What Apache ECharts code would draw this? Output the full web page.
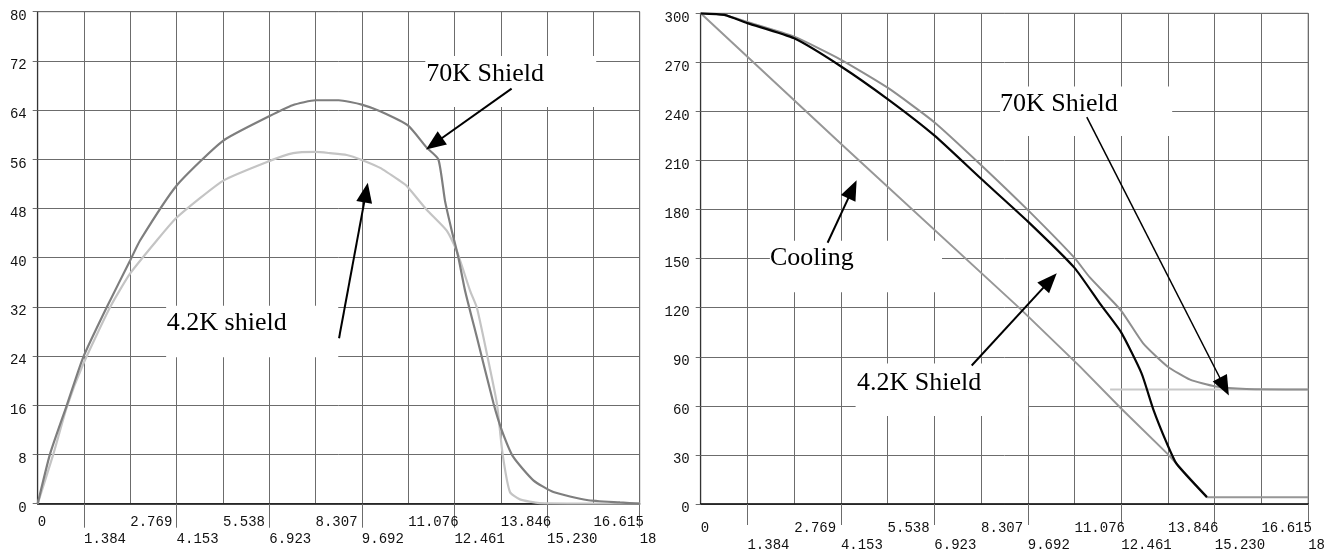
<!DOCTYPE html>
<html><head><meta charset="utf-8">
<script src="https://cdn.jsdelivr.net/npm/echarts@6/dist/echarts.min.js"></script>
<style>html,body{margin:0;padding:0;background:#fff}#c{width:1328px;height:552px}</style>
</head><body><div id="c"></div>
<script>
// ---- data ----
const X_MAX = 18;
const X_STEP = 18 / 13;
const xTickLabels = ['0','1.384','2.769','4.153','5.538','6.923','8.307','9.692','11.076','12.461','13.846','15.230','16.615','18'];
const leftYMax = 80, leftYStep = 8;
const rightYMax = 300, rightYStep = 30;

const left70K = [[0,0],[0.37,8.1],[0.87,16.0],[1.36,23.8],[2.06,31.9],[2.76,39.5],[3.06,42.8],[4.15,51.7],[5.54,59.0],[6.92,63.0],[7.62,64.8],[8.31,65.6],[9.0,65.6],[9.69,64.9],[10.24,63.8],[11.07,61.5],[11.63,57.9],[11.98,56.0],[12.18,49.2],[12.38,44.4],[12.58,40.0],[12.78,34.6],[13.13,27.1],[13.63,16.3],[13.88,11.9],[14.22,7.6],[14.82,3.8],[15.42,1.9],[16.42,0.6],[17.41,0.2],[18,0]];
const left42K = [[0,0],[0.47,8.1],[0.87,15.7],[1.36,22.7],[2.16,31.9],[2.76,37.4],[3.56,42.8],[4.15,46.5],[5.54,52.5],[6.92,55.7],[7.64,57.0],[8.31,57.2],[8.74,57.0],[9.24,56.7],[9.69,55.9],[10.24,54.6],[10.83,52.5],[11.03,51.7],[11.63,47.8],[12.23,44.4],[12.53,41.1],[12.93,34.6],[13.13,31.9],[13.43,24.4],[13.73,16.3],[13.9,8.1],[14.12,1.9],[14.42,0.7],[15.0,0.1],[18,0]];

const right70K = [[0,300],[0.7,299],[1.38,294.7],[2.77,285.7],[4.16,271.6],[5.55,254.4],[6.93,233.3],[8.32,207.0],[9.69,179.8],[11.07,150.6],[11.53,138.5],[12.45,118.4],[13.11,98.2],[13.83,84.1],[14.5,76.0],[15.22,72.0],[16.17,70.3],[18,70]];
const right42K = [[0,300],[0.7,299],[1.38,294.0],[2.77,284.7],[4.16,267.5],[5.55,247.4],[6.93,225.2],[8.3,199.0],[9.69,172.8],[11.07,144.5],[11.83,122.5],[12.45,105.2],[13.06,80.0],[13.41,57.9],[13.8,37.7],[14.1,24.6],[15.0,4.2]];
const rightCooling = [[0,300],[4.17,220],[9.47,119.3],[11.24,84],[12.45,58.5],[13.84,30.5],[15.0,4.2],[18,4.2]];
const right70KLevel = [[12.13,70],[18,70]];

// annotations in data coordinates: panel, box [x0,y0,x1,y1], text anchor [x,y], arrow tail, arrow tip
const annotations = [
  {panel:0, text:'70K Shield',  box:[11.59,72.8,16.70,64.5],  at:[11.62,69.9],  tail:[14.17,67.5], tip:[11.61,57.6], w:2},
  {panel:0, text:'4.2K shield', box:[3.84,32.2,8.98,23.8],    at:[3.86,29.3],   tail:[9.01,26.9],  tip:[9.87,52.2],  w:2},
  {panel:1, text:'Cooling',     box:[2.05,160.9,7.15,129.4],  at:[2.05,150.2],  tail:[3.76,159.7], tip:[4.62,197.9], w:2},
  {panel:1, text:'70K Shield',  box:[8.87,255.2,13.97,225.0], at:[8.87,244.3],  tail:[11.44,236.5],tip:[15.65,66.3], w:1.5},
  {panel:1, text:'4.2K Shield', box:[4.59,85.9,9.70,53.8],    at:[4.63,74.1],   tail:[8.03,84.7],  tip:[10.55,141.1],w:2}
];

// ---- chart ----
const tickVals = xTickLabels.map((_, i) => i * X_STEP);
const evenVals = tickVals.filter((_, i) => i % 2 === 0);
const oddVals = tickVals.filter((_, i) => i % 2 === 1);
const labelFor = v => xTickLabels[Math.round(v / X_STEP)];
const GRID = '#6c6c6c';
const LABEL_FONT = {fontFamily:'Liberation Mono', fontSize:14, color:'#111'};

function xAxes(g, m1, m2, tickLen) {
  return [
    {type:'value', gridIndex:g, min:0, max:X_MAX, interval:X_STEP, position:'bottom',
     axisLine:{show:true, onZero:false, lineStyle:{color:'#111', width:1.5}},
     axisTick:{show:false},
     splitLine:{show:true, lineStyle:{color:GRID, width:1}},
     axisLabel:Object.assign({customValues:evenVals, formatter:labelFor, align:'left', verticalAlign:'middle', margin:m1}, LABEL_FONT)},
    {type:'value', gridIndex:g, min:0, max:X_MAX, interval:X_STEP, position:'bottom',
     axisLine:{show:false, onZero:false},
     axisTick:{show:true, customValues:oddVals, length:tickLen, lineStyle:{color:GRID, width:1}},
     splitLine:{show:false},
     axisLabel:Object.assign({customValues:oddVals, formatter:labelFor, align:'left', verticalAlign:'middle', margin:m2}, LABEL_FONT)}
  ];
}
function yAxis(g, max, step) {
  return {type:'value', gridIndex:g, min:0, max:max, interval:step,
    axisLine:{show:true, onZero:false, lineStyle:{color:'#333', width:1.2}},
    axisTick:{show:true, length:5, lineStyle:{color:GRID}},
    splitLine:{show:true, lineStyle:{color:GRID, width:1}},
    axisLabel:{margin:11, verticalAlign:'middle', formatter: v => '{a|' + v + '}',
      rich:{a:Object.assign({padding:[9,0,0,0]}, LABEL_FONT)}}};
}
function line(data, xi, yi, color, width, z, smooth) {
  return {type:'line', xAxisIndex:xi, yAxisIndex:yi, data:data, symbol:'none',
    smooth: smooth ? 0.18 : false,
    lineStyle:{color:color, width:width}, itemStyle:{color:color}, z:z || 2, silent:true};
}

const chart = echarts.init(document.getElementById('c'), null, {renderer:'canvas'});
chart.setOption({
  animation:false,
  backgroundColor:'#fff',
  grid:[
    {left:37.7, top:11.7, width:602, height:492, show:true, borderColor:GRID, borderWidth:1, backgroundColor:'transparent'},
    {left:700.7, top:13.3, width:607.6, height:496, show:true, borderColor:GRID, borderWidth:1, backgroundColor:'transparent'}
  ],
  xAxis:[].concat(xAxes(0, 19, 36, 24), xAxes(1, 24, 41, 21)),
  yAxis:[yAxis(0, leftYMax, leftYStep), yAxis(1, rightYMax, rightYStep)],
  series:[
    line(left42K, 0, 0, '#c4c4c4', 2.2, 2, true),
    line(left70K, 0, 0, '#7e7e7e', 2.2, 3, true),
    line(right70KLevel, 2, 1, '#c8c8c8', 2, 2, false),
    line(rightCooling, 2, 1, '#979797', 2, 2, false),
    line(right70K, 2, 1, '#8e8e8e', 2, 3, true),
    line(right42K, 2, 1, '#050505', 2.2, 4, true)
  ]
});

// annotations as graphic elements, positioned through the axes' scales
function px(panel, p) {
  return chart.convertToPixel({xAxisIndex: panel === 0 ? 0 : 2, yAxisIndex: panel}, p);
}
const graphics = [];
annotations.forEach(a => {
  const b0 = px(a.panel, [a.box[0], a.box[1]]), b1 = px(a.panel, [a.box[2], a.box[3]]);
  graphics.push({type:'rect', z:100, silent:true,
    shape:{x:b0[0], y:b0[1], width:b1[0]-b0[0], height:b1[1]-b0[1]}, style:{fill:'#fff'}});
  const t = px(a.panel, a.at);
  graphics.push({type:'text', z:101, silent:true, x:t[0], y:t[1],
    style:{text:a.text, fill:'#000', fontFamily:'Liberation Serif', fontSize:26, align:'left', verticalAlign:'middle'}});
  const T = px(a.panel, a.tail), P = px(a.panel, a.tip);
  const dx = P[0]-T[0], dy = P[1]-T[1], len = Math.hypot(dx, dy);
  const ux = dx/len, uy = dy/len, nx = -uy, ny = ux;
  const L = 20, W = 16;
  const B = [P[0]-ux*L, P[1]-uy*L];
  graphics.push({type:'line', z:102, silent:true,
    shape:{x1:T[0], y1:T[1], x2:B[0]+ux*2, y2:B[1]+uy*2}, style:{stroke:'#000', lineWidth:a.w}});
  graphics.push({type:'polygon', z:103, silent:true,
    shape:{points:[P, [B[0]+nx*W/2, B[1]+ny*W/2], [B[0]-nx*W/2, B[1]-ny*W/2]]}, style:{fill:'#000'}});
});
chart.setOption({graphic:graphics});
</script>
</body></html>
